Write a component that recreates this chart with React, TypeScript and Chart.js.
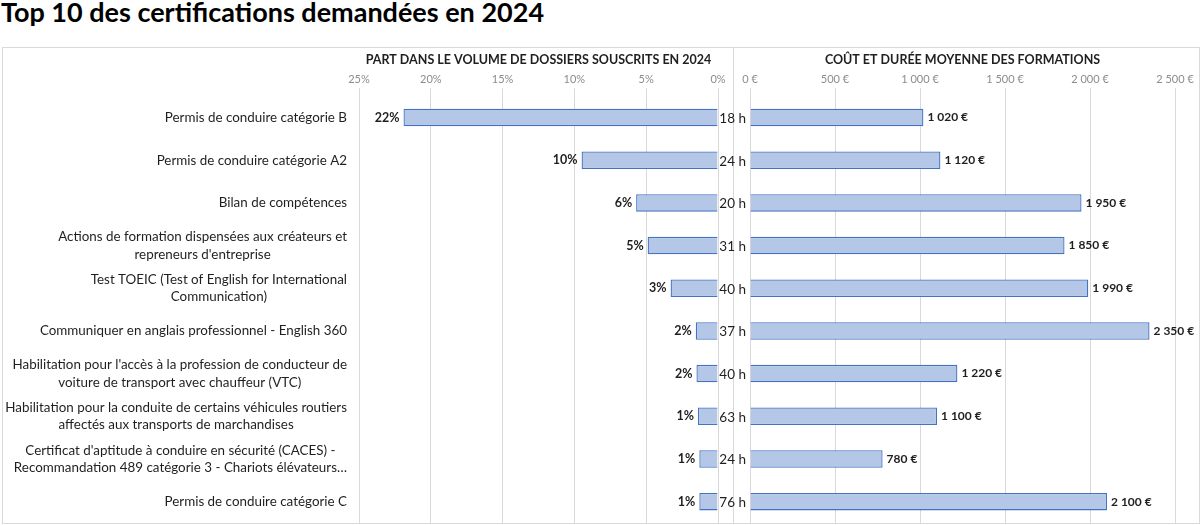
import React, { useEffect, useRef } from "react";
import { Chart, registerables } from "chart.js";

Chart.register(...registerables);

const chartTitle = "Top 10 des certifications demandées en 2024";
const leftTitle = "PART DANS LE VOLUME DE DOSSIERS SOUSCRITS EN 2024";
const rightTitle = "COÛT ET DURÉE MOYENNE DES FORMATIONS";

const categories: string[][] = [
  ["Permis de conduire catégorie B"],
  ["Permis de conduire catégorie A2"],
  ["Bilan de compétences"],
  ["Actions de formation dispensées aux créateurs et", "repreneurs d'entreprise"],
  ["Test TOEIC (Test of English for International", "Communication)"],
  ["Communiquer en anglais professionnel - English 360"],
  ["Habilitation pour l'accès à la profession de conducteur de", "voiture de transport avec chauffeur (VTC)"],
  ["Habilitation pour la conduite de certains véhicules routiers", "affectés aux transports de marchandises"],
  ["Certificat d'aptitude à conduire en sécurité (CACES) -", "Recommandation 489 catégorie 3 - Chariots élévateurs…"],
  ["Permis de conduire catégorie C"],
];

// share of submitted files (%)
const shareValues = [21.9, 9.5, 5.7, 4.9, 3.3, 1.55, 1.5, 1.4, 1.3, 1.3];
// average cost (€)
const costValues = [1020, 1120, 1950, 1850, 1990, 2350, 1220, 1100, 780, 2100];
// average duration (hours)
const hoursValues = [18, 24, 20, 31, 40, 37, 40, 63, 24, 76];

const shareAxis = { min: 0, max: 25, step: 5 };
const costAxis = { min: 0, max: 2500, step: 500 };

const FONT = "Lato";
const BAR_FILL = "#B4C7E7";
const BAR_BORDER = "#4472C4";
const GRID = "#d9d9d9";
const TICK_COLOR = "#8c8c8c";
const TEXT = "#1f1f1f";

function fmtThousands(v: number): string {
  return Math.round(v).toString().replace(/\B(?=(\d{3})+(?!\d))/g, " ");
}
function fmtEuro(v: number): string {
  return fmtThousands(v) + " €";
}

const labelPlugin = {
  id: "leftLabels",
  afterDraw(chart: any) {
    const ctx = chart.ctx as CanvasRenderingContext2D;
    const yScale = chart.scales.y;
    const area = chart.chartArea;
    ctx.save();
    // category labels
    ctx.font = `13.4px ${FONT}`;
    ctx.fillStyle = TEXT;
    ctx.textBaseline = "middle";
    ctx.textAlign = "center";
    const right = area.left - 12;
    const lh = 17.5;
    categories.forEach((lines, i) => {
      const y = yScale.getPixelForValue(i);
      const maxW = Math.max(...lines.map((l) => ctx.measureText(l).width));
      const cx = right - maxW / 2;
      const startY = y - ((lines.length - 1) * lh) / 2;
      lines.forEach((l, k) => ctx.fillText(l, cx, startY + k * lh));
    });
    // percentage labels
    const meta = chart.getDatasetMeta(0);
    ctx.font = `bold 12.5px ${FONT}`;
    ctx.textAlign = "right";
    meta.data.forEach((bar: any, i: number) => {
      ctx.fillText(`${Math.round(shareValues[i])}%`, bar.x - 4, bar.y);
    });
    ctx.restore();
  },
};

const rightPlugin = {
  id: "rightLabels",
  afterDraw(chart: any) {
    const ctx = chart.ctx as CanvasRenderingContext2D;
    const area = chart.chartArea;
    const meta = chart.getDatasetMeta(0);
    ctx.save();
    ctx.textBaseline = "middle";
    ctx.fillStyle = TEXT;
    ctx.font = `bold 12px ${FONT}`;
    ctx.textAlign = "left";
    meta.data.forEach((bar: any, i: number) => {
      ctx.fillText(fmtEuro(costValues[i]), bar.x + 4, bar.y);
    });
    ctx.font = `13.5px ${FONT}`;
    ctx.textAlign = "right";
    meta.data.forEach((bar: any, i: number) => {
      ctx.fillText(`${hoursValues[i]} h`, area.left - 4, bar.y + 1);
    });
    ctx.restore();
  },
};

function baseOptions(title: string, padLeft: number, padRight: number, xScale: any) {
  return {
    indexAxis: "y" as const,
    responsive: true,
    maintainAspectRatio: false,
    animation: false as const,
    layout: { padding: { left: padLeft, right: padRight, top: 0, bottom: 0 } },
    plugins: {
      legend: { display: false },
      tooltip: { enabled: false },
      title: {
        display: true,
        text: title,
        fullSize: false,
        color: TEXT,
        font: { family: FONT, size: 12.5, weight: "bold" as const },
        padding: { top: 4, bottom: 4 },
      },
    },
    scales: {
      x: xScale,
      y: {
        type: "category" as const,
        display: false,
        offset: true,
        grid: { display: false },
      },
    },
  };
}

export default function App() {
  const leftRef = useRef<HTMLCanvasElement>(null);
  const rightRef = useRef<HTMLCanvasElement>(null);

  useEffect(() => {
    const labels = categories.map((c) => c.join(" "));
    const barStyle = {
      backgroundColor: BAR_FILL,
      borderColor: BAR_BORDER,
      borderWidth: 1.3,
      categoryPercentage: 1,
      barPercentage: 0.41,
    };
    const left = new Chart(leftRef.current!, {
      type: "bar",
      data: { labels, datasets: [{ data: shareValues, ...barStyle }] },
      options: baseOptions(leftTitle, 357, 16, {
        type: "linear",
        position: "top",
        reverse: true,
        min: shareAxis.min,
        max: shareAxis.max,
        ticks: {
          stepSize: shareAxis.step,
          callback: (v: any) => `${v}%`,
          color: TICK_COLOR,
          font: { family: FONT, size: 11 },
          padding: 2,
          maxRotation: 0,
        },
        grid: { color: GRID, tickColor: GRID, tickLength: 8, drawTicks: true },
        border: { display: false },
      }) as any,
      plugins: [labelPlugin],
    });
    const right = new Chart(rightRef.current!, {
      type: "bar",
      data: { labels, datasets: [{ data: costValues, ...barStyle }] },
      options: baseOptions(rightTitle, 32, 25, {
        type: "linear",
        position: "top",
        min: costAxis.min,
        max: costAxis.max,
        ticks: {
          stepSize: costAxis.step,
          callback: (v: any) => fmtEuro(Number(v)),
          color: TICK_COLOR,
          font: { family: FONT, size: 11 },
          padding: 2,
          maxRotation: 0,
        },
        grid: { color: GRID, tickColor: GRID, tickLength: 8, drawTicks: true },
        border: { display: false },
      }) as any,
      plugins: [rightPlugin],
    });
    return () => {
      left.destroy();
      right.destroy();
    };
  }, []);

  return (
    <div
      style={{
        position: "absolute",
        left: 0,
        top: 0,
        width: 1202,
        height: 525,
        background: "#fff",
        overflow: "hidden",
      }}
    >
      <div
        style={{
          position: "absolute",
          left: 1,
          top: -3,
          fontFamily: FONT,
          fontWeight: 700,
          fontSize: 27,
          lineHeight: "30px",
          color: "#000",
          whiteSpace: "nowrap",
        }}
      >
        {chartTitle}
      </div>
      <div
        style={{
          position: "absolute",
          left: 2,
          top: 47,
          width: 1196,
          height: 475,
          border: `1px solid ${GRID}`,
        }}
      />
      <div
        style={{
          position: "absolute",
          left: 733,
          top: 47,
          width: 1,
          height: 477,
          background: GRID,
        }}
      />
      <div style={{ position: "absolute", left: 2, top: 48, width: 732, height: 475 }}>
        <canvas ref={leftRef} />
      </div>
      <div style={{ position: "absolute", left: 718, top: 48, width: 482, height: 475 }}>
        <canvas ref={rightRef} />
      </div>
    </div>
  );
}
